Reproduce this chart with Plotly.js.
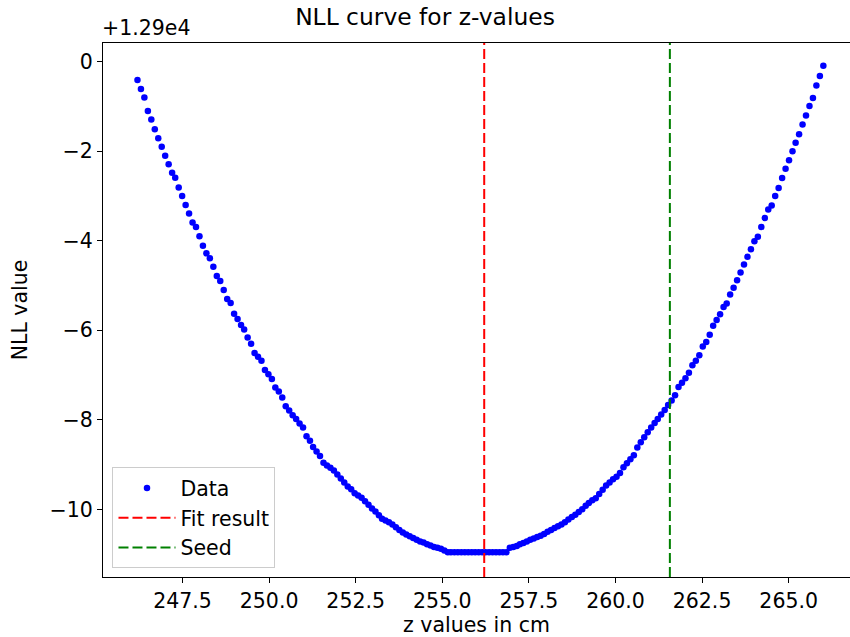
<!DOCTYPE html>
<html>
<head>
<meta charset="utf-8">
<script src="https://cdn.plot.ly/plotly-3.0.1.min.js"></script>
<style>
  html, body { margin: 0; padding: 0; background: #fff; overflow: hidden; }
  #chart { width: 850px; height: 637px; }
</style>
</head>
<body>
<div id="chart"></div>
<script>
// ---- data ----
const OFFSET_LABEL = "+1.29e4";
const zValues = [
  246.20, 246.30, 246.40, 246.50, 246.60, 246.70, 246.80, 246.90, 247.00, 247.10,
  247.20, 247.29, 247.39, 247.49, 247.59, 247.69, 247.79, 247.89, 247.99, 248.09,
  248.19, 248.29, 248.39, 248.49, 248.59, 248.69, 248.79, 248.89, 248.99, 249.09,
  249.19, 249.28, 249.38, 249.48, 249.58, 249.68, 249.78, 249.88, 249.98, 250.08,
  250.18, 250.28, 250.38, 250.48, 250.58, 250.68, 250.78, 250.88, 250.98, 251.08,
  251.18, 251.27, 251.37, 251.47, 251.57, 251.67, 251.77, 251.87, 251.97, 252.07,
  252.17, 252.27, 252.37, 252.47, 252.57, 252.67, 252.77, 252.87, 252.97, 253.07,
  253.17, 253.26, 253.36, 253.46, 253.56, 253.66, 253.76, 253.86, 253.96, 254.06,
  254.16, 254.26, 254.36, 254.46, 254.56, 254.66, 254.76, 254.86, 254.96, 255.06,
  255.16, 255.25, 255.35, 255.45, 255.55, 255.65, 255.75, 255.85, 255.95, 256.05,
  256.15, 256.25, 256.35, 256.45, 256.55, 256.65, 256.75, 256.85, 256.95, 257.05,
  257.15, 257.24, 257.34, 257.44, 257.54, 257.64, 257.74, 257.84, 257.94, 258.04,
  258.14, 258.24, 258.34, 258.44, 258.54, 258.64, 258.74, 258.84, 258.94, 259.04,
  259.14, 259.23, 259.33, 259.43, 259.53, 259.63, 259.73, 259.83, 259.93, 260.03,
  260.13, 260.23, 260.33, 260.43, 260.53, 260.63, 260.73, 260.83, 260.93, 261.03,
  261.13, 261.22, 261.32, 261.42, 261.52, 261.62, 261.72, 261.82, 261.92, 262.02,
  262.12, 262.22, 262.32, 262.42, 262.52, 262.62, 262.72, 262.82, 262.92, 263.02,
  263.12, 263.21, 263.31, 263.41, 263.51, 263.61, 263.71, 263.81, 263.91, 264.01,
  264.11, 264.21, 264.31, 264.41, 264.51, 264.61, 264.71, 264.81, 264.91, 265.01,
  265.11, 265.20, 265.30, 265.40, 265.50, 265.60, 265.70, 265.80, 265.90, 266.00
];
// NLL values minus 1.29e4 (as drawn on the axis)
const nllOffset = [
  -0.41, -0.61, -0.80, -1.10, -1.29, -1.51, -1.71, -1.90, -2.10, -2.29,
  -2.48, -2.59, -2.81, -3.00, -3.20, -3.39, -3.59, -3.69, -3.90, -4.11,
  -4.28, -4.39, -4.58, -4.79, -4.90, -5.10, -5.30, -5.39, -5.63, -5.75,
  -5.88, -5.98, -6.16, -6.30, -6.51, -6.59, -6.68, -6.89, -6.98, -7.09,
  -7.28, -7.37, -7.50, -7.70, -7.79, -7.90, -7.98, -8.08, -8.17, -8.37,
  -8.47, -8.61, -8.71, -8.81, -8.96, -9.02, -9.07, -9.13, -9.22, -9.31,
  -9.40, -9.49, -9.55, -9.64, -9.69, -9.74, -9.82, -9.90, -9.98, -10.05,
  -10.13, -10.21, -10.25, -10.29, -10.34, -10.40, -10.46, -10.52, -10.56, -10.60,
  -10.64, -10.68, -10.72, -10.74, -10.78, -10.81, -10.84, -10.86, -10.88, -10.92,
  -10.96, -10.96, -10.96, -10.96, -10.96, -10.96, -10.96, -10.96, -10.96, -10.96,
  -10.96, -10.96, -10.96, -10.96, -10.96, -10.96, -10.96, -10.96, -10.86, -10.84,
  -10.82, -10.78, -10.75, -10.72, -10.68, -10.65, -10.62, -10.59, -10.55, -10.50,
  -10.46, -10.42, -10.38, -10.34, -10.29, -10.23, -10.17, -10.12, -10.06, -10.00,
  -9.92, -9.86, -9.80, -9.75, -9.66, -9.56, -9.47, -9.40, -9.33, -9.27,
  -9.19, -9.06, -8.97, -8.88, -8.79, -8.62, -8.50, -8.39, -8.28, -8.17,
  -8.07, -7.98, -7.88, -7.78, -7.67, -7.57, -7.45, -7.27, -7.17, -7.07,
  -6.95, -6.78, -6.68, -6.56, -6.36, -6.26, -6.10, -5.90, -5.77, -5.64,
  -5.48, -5.40, -5.20, -5.05, -4.88, -4.71, -4.53, -4.36, -4.19, -4.01,
  -3.91, -3.69, -3.49, -3.30, -3.21, -3.00, -2.82, -2.60, -2.39, -2.20,
  -2.00, -1.81, -1.62, -1.40, -1.20, -0.99, -0.81, -0.53, -0.32, -0.09
];
const fitResult = 256.21;
const seed = 261.57;
const xTickVals = [247.5, 250.0, 252.5, 255.0, 257.5, 260.0, 262.5, 265.0];
const xTickText = ["247.5", "250.0", "252.5", "255.0", "257.5", "260.0", "262.5", "265.0"];
const yTickVals = [0, -2, -4, -6, -8, -10];
const yTickText = ["0", "\u22122", "\u22124", "\u22126", "\u22128", "\u221210"];
const legendNames = ["Data", "Fit result", "Seed"];
const titleText = "NLL curve for z-values";
const xTitle = "z values in cm";
const yTitle = "NLL value";

// ---- chart ----
const FONT = "DejaVu Sans, sans-serif";
const FS = 20.5;
const traces = [{
  type: "scatter",
  mode: "markers",
  x: zValues,
  y: nllOffset,
  name: legendNames[0],
  marker: { color: "blue", size: 6.5 },
  cliponaxis: false
}];

const layout = {
  width: 850, height: 637, autosize: false,
  paper_bgcolor: "#fff", plot_bgcolor: "#fff",
  margin: { l: 103, r: 0, t: 43, b: 60, pad: 0 },
  font: { family: FONT, color: "#000", size: FS },
  title: { text: titleText, font: { family: FONT, size: 23.4, color: "#000" },
           x: 0.5, xref: "container", xanchor: "center", y: 1, yref: "paper", yanchor: "bottom", pad: { b: 18 } },
  showlegend: true,
  legend: {
    x: 0.0127, y: 0.0163, xanchor: "left", yanchor: "bottom",
    bgcolor: "rgba(255,255,255,0.8)", bordercolor: "#cccccc", borderwidth: 1,
    font: { family: FONT, size: FS, color: "#000" },
    tracegroupgap: 0, itemwidth: 57
  },
  xaxis: {
    range: [245.205, 266.77], autorange: false,
    tickmode: "array", tickvals: xTickVals, ticktext: xTickText,
    ticks: "outside", ticklen: 5, tickwidth: 1.1, tickcolor: "#000",
    showline: true, linecolor: "#000", linewidth: 1.1, mirror: true,
    showgrid: false, zeroline: false,
    tickfont: { family: FONT, size: FS, color: "#000" },
    title: { text: xTitle, font: { family: FONT, size: FS, color: "#000" }, standoff: 7 }
  },
  yaxis: {
    range: [-11.512, 0.418], autorange: false,
    tickmode: "array", tickvals: yTickVals, ticktext: yTickText,
    ticks: "outside", ticklen: 5, tickwidth: 1.1, tickcolor: "#000",
    showline: true, linecolor: "#000", linewidth: 1.1, mirror: false,
    showgrid: false, zeroline: false,
    tickfont: { family: FONT, size: FS, color: "#000" },
    title: { text: yTitle, font: { family: FONT, size: FS, color: "#000" }, standoff: 16 }
  },
  shapes: [
    { type: "line", xref: "x", yref: "paper", x0: fitResult, x1: fitResult, y0: 0, y1: 1,
      line: { color: "red", width: 2, dash: "10px,4px" }, layer: "above",
      showlegend: true, name: legendNames[1] },
    { type: "line", xref: "x", yref: "paper", x0: seed, x1: seed, y0: 0, y1: 1,
      line: { color: "green", width: 2, dash: "10px,4px" }, layer: "above",
      showlegend: true, name: legendNames[2] }
  ],
  annotations: [
    { text: OFFSET_LABEL, xref: "paper", yref: "paper", x: 0, y: 1, xanchor: "left", yanchor: "bottom",
      xshift: -3, yshift: 1, showarrow: false, font: { family: FONT, size: FS, color: "#000" } }
  ]
};

Plotly.newPlot("chart", traces, layout, { displayModeBar: false, staticPlot: true });
</script>
</body>
</html>
